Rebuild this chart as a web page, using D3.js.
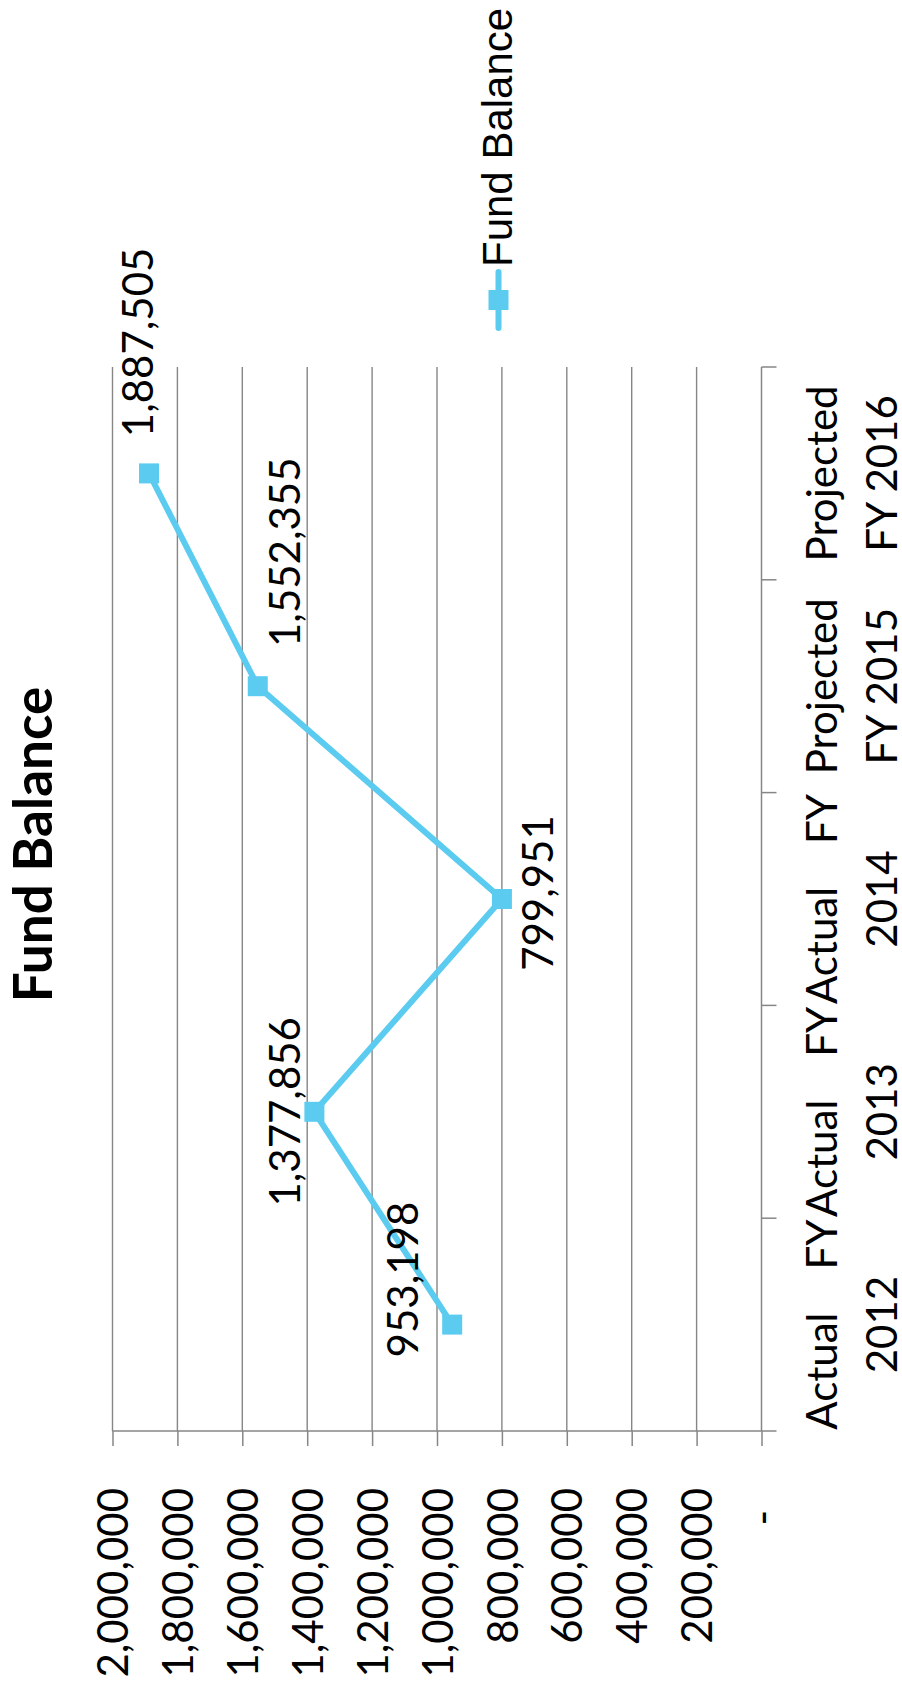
<!DOCTYPE html>
<html>
<head>
<meta charset="utf-8">
<script src="https://cdn.jsdelivr.net/npm/d3@7"></script>
<style>
  html, body { margin: 0; padding: 0; background: #ffffff; }
  svg { display: block; }
  text { font-family: Lato, "Noto Sans", sans-serif; fill: #000; white-space: pre; }
</style>
</head>
<body>
<script>
// Chart content
const chartTitle = "Fund Balance";
const seriesName = "Fund Balance";
const categories = ["Actual FY 2012", "Actual FY 2013", "Actual FY 2014", "Projected FY 2015", "Projected FY 2016"];
const categoryLines = [["Actual    FY", "2012"], ["Actual    FY", "2013"], ["Actual    FY", "2014"], ["Projected", "FY 2015"], ["Projected", "FY 2016"]];
const fundBalance = [953198, 1377856, 799951, 1552355, 1887505];
const valueTicks = [0, 200000, 400000, 600000, 800000, 1000000, 1200000, 1400000, 1600000, 1800000, 2000000];

// Per-point data label nudges (relative to the marker, in chart coordinates)
const labelOffset = [[45, -34], [0, -14], [6, 51], [134, 42], [131, 4]];

const pageW = 902, pageH = 1692;
const lineColor = "#5bcbf0";
const gridColor = "#868686";

const svg = d3.select("body").append("svg")
  .attr("width", pageW).attr("height", pageH);

// The whole chart is laid out landscape and turned a quarter turn onto the page
const chart = svg.append("g")
  .attr("transform", `translate(0,${pageH}) rotate(-90)`);

const plot = { left: 261, right: 1325, top: 112.5, bottom: 761.5 };

const x = d3.scaleBand().domain(categories).range([plot.left, plot.right]).padding(0);
const y = d3.scaleLinear().domain([0, 2000000]).range([plot.bottom, plot.top]);
const cx = c => x(c) + x.bandwidth() / 2;

// Horizontal gridlines
chart.append("g").selectAll("line")
  .data(valueTicks.filter(v => v > 0))
  .join("line")
  .attr("x1", plot.left).attr("x2", plot.right)
  .attr("y1", d => y(d)).attr("y2", d => y(d))
  .attr("stroke", gridColor).attr("stroke-width", 1.4);

// Value axis (left)
const yAxis = d3.axisLeft(y)
  .tickValues(valueTicks)
  .tickSize(15)
  .tickPadding(42)
  .tickFormat(d => d === 0 ? "-" : d3.format(",")(d));
const yAxisG = chart.append("g")
  .attr("transform", `translate(${plot.left},0)`)
  .call(yAxis);
yAxisG.select(".domain").attr("stroke", gridColor).attr("stroke-width", 1.5)
  .attr("d", `M0,${plot.top}V${plot.bottom}`);
yAxisG.selectAll(".tick line").attr("stroke", gridColor).attr("stroke-width", 1.5);
yAxisG.selectAll(".tick text")
  .style("font-family", "Lato, sans-serif")
  .attr("font-size", 42)
  .attr("fill", "#000")
  .attr("dy", "0.36em")
  .attr("dx", d => d === 0 ? "-0.52em" : 0);

// Category axis (bottom) with ticks between categories
const catG = chart.append("g");
catG.append("line")
  .attr("x1", plot.left).attr("x2", plot.right)
  .attr("y1", plot.bottom).attr("y2", plot.bottom)
  .attr("stroke", gridColor).attr("stroke-width", 1.5);
const boundaries = categories.map(c => x(c)).concat([x.range()[1]]);
catG.selectAll("line.tick")
  .data(boundaries)
  .join("line")
  .attr("class", "tick")
  .attr("x1", d => d).attr("x2", d => d)
  .attr("y1", plot.bottom).attr("y2", plot.bottom + 15)
  .attr("stroke", gridColor).attr("stroke-width", 1.5);

// Two-line category labels, one text element per line
const catLabelData = [];
categories.forEach((c, i) => categoryLines[i].forEach((ln, j) => catLabelData.push({ c, ln, j })));
catG.selectAll("text.cat")
  .data(catLabelData)
  .join("text")
  .attr("class", "cat")
  .attr("text-anchor", "middle")
  .attr("font-size", 42)
  .attr("x", d => cx(d.c))
  .attr("y", d => plot.bottom + 75 + d.j * 60)
  .text(d => d.ln);

// Series line and square markers
const pts = categories.map((c, i) => ({ c, v: fundBalance[i], i }));
const line = d3.line().x(d => cx(d.c)).y(d => y(d.v));
chart.append("path")
  .datum(pts)
  .attr("d", line)
  .attr("fill", "none")
  .attr("stroke", lineColor)
  .attr("stroke-width", 6)
  .attr("stroke-linejoin", "round")
  .attr("stroke-linecap", "round");

const markerSize = 20;
chart.append("g").selectAll("rect")
  .data(pts)
  .join("rect")
  .attr("x", d => cx(d.c) - markerSize / 2)
  .attr("y", d => y(d.v) - markerSize / 2)
  .attr("width", markerSize).attr("height", markerSize)
  .attr("fill", lineColor);

// Data labels
chart.append("g").selectAll("text")
  .data(pts)
  .join("text")
  .attr("text-anchor", "middle")
  .attr("font-size", 42)
  .attr("x", d => cx(d.c) + labelOffset[d.i][0])
  .attr("y", d => y(d.v) + labelOffset[d.i][1])
  .text(d => d3.format(",")(d.v));

// Title
chart.append("text")
  .attr("x", pageH - 844.5)
  .attr("y", 52)
  .attr("text-anchor", "middle")
  .attr("font-size", 53)
  .attr("font-weight", "bold")
  .text(chartTitle);

// Legend
const legend = chart.append("g").attr("transform", `translate(${pageH - 300},498.5)`);
legend.append("line")
  .attr("x1", -28).attr("x2", 28).attr("y1", 0).attr("y2", 0)
  .attr("stroke", lineColor).attr("stroke-width", 6).attr("stroke-linecap", "round");
legend.append("rect")
  .attr("x", -markerSize / 2).attr("y", -markerSize / 2)
  .attr("width", markerSize).attr("height", markerSize)
  .attr("fill", lineColor);
legend.append("text")
  .attr("x", 33)
  .attr("y", 13)
  .attr("font-size", 42)
  .style("font-family", "'Liberation Sans', Arial, sans-serif")
  .text(seriesName);
</script>
</body>
</html>
